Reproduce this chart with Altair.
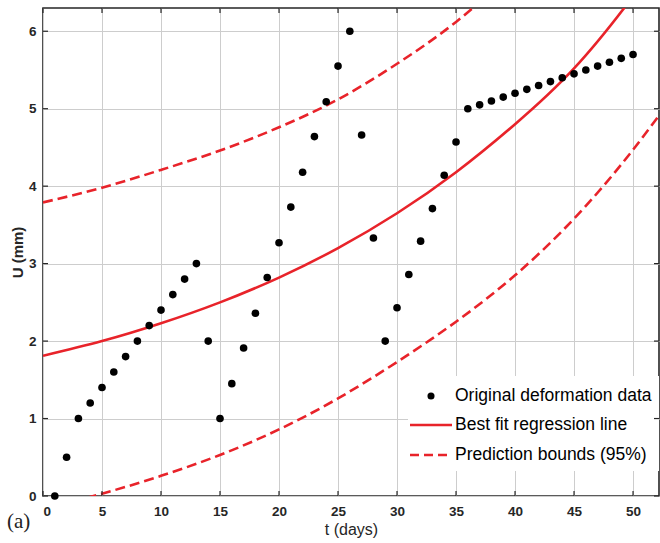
import altair as alt
import pandas as pd

# Daily deformation readings, t = 1..50 days
days = list(range(1, 51))
u_mm = [
    0.00, 0.50, 1.00, 1.20, 1.40, 1.60, 1.80, 2.00, 2.20, 2.40,
    2.60, 2.80, 3.00, 2.00, 1.00, 1.45, 1.91, 2.36, 2.82, 3.27,
    3.73, 4.18, 4.64, 5.09, 5.55, 6.00, 4.66, 3.33, 2.00, 2.43,
    2.86, 3.29, 3.71, 4.14, 4.57, 5.00, 5.05, 5.10, 5.15, 5.20,
    5.25, 5.30, 5.35, 5.40, 5.45, 5.50, 5.55, 5.60, 5.65, 5.70,
]

# Regression curve and 95% prediction bounds, sampled every 5 days
curve_t = [0, 5, 10, 15, 20, 25, 30, 35, 40, 45, 50, 55]
fit_u = [1.81, 2.00, 2.23, 2.50, 2.82, 3.20, 3.65, 4.18, 4.80, 5.52, 6.45, 7.50]
upper_t = [0, 5, 10, 15, 20, 25, 30, 35, 40]
upper_u = [3.79, 3.98, 4.21, 4.46, 4.76, 5.12, 5.58, 6.12, 6.78]
lower_u = [-0.17, 0.03, 0.26, 0.53, 0.86, 1.26, 1.73, 2.25, 2.85, 3.58, 4.47, 5.50]

x_ticks = [0, 5, 10, 15, 20, 25, 30, 35, 40, 45, 50]
y_ticks = [0, 1, 2, 3, 4, 5, 6]

legend_labels = ["Original deformation data", "Best fit regression line", "Prediction bounds (95%)"]

W, H = 616, 488
RED = "#e8232a"
FONT = "Liberation Sans"

points_df = pd.DataFrame({"t": days, "u": u_mm})
fit_df = pd.DataFrame({"t": curve_t, "u": fit_u})
upper_df = pd.DataFrame({"t": upper_t, "u": upper_u})
lower_df = pd.DataFrame({"t": curve_t, "u": lower_u})
xt_df = pd.DataFrame({"t": x_ticks})
yt_df = pd.DataFrame({"u": y_ticks})

x_scale = alt.Scale(domain=[0, 52.2], nice=False, zero=False)
y_scale = alt.Scale(domain=[0, 6.3], nice=False, zero=False)

x_enc = alt.X("t:Q", scale=x_scale, title="t (days)",
              axis=alt.Axis(values=x_ticks, format="d"))
y_enc = alt.Y("u:Q", scale=y_scale, title="U (mm)",
              axis=alt.Axis(values=y_ticks, format="d"))

pts = alt.Chart(points_df).mark_circle(size=58, color="black", opacity=1).encode(x=x_enc, y=y_enc)

fit_line = alt.Chart(fit_df).mark_line(color=RED, strokeWidth=2.6, clip=True,
                                       interpolate="natural").encode(x=x_enc, y=y_enc)
up_line = alt.Chart(upper_df).mark_line(color=RED, strokeWidth=2.6, clip=True, strokeDash=[10, 5],
                                        interpolate="natural").encode(x=x_enc, y=y_enc)
lo_line = alt.Chart(lower_df).mark_line(color=RED, strokeWidth=2.6, clip=True, strokeDash=[10, 5],
                                        interpolate="natural").encode(x=x_enc, y=y_enc)

# Inward-pointing tick marks on all four sides of the frame
tick_style = dict(color="#262626", strokeWidth=1.2)
bx = alt.Chart(xt_df).mark_rule(**tick_style).encode(x=alt.X("t:Q", scale=x_scale), y=alt.value(H), y2=alt.value(H - 5))
tx = alt.Chart(xt_df).mark_rule(**tick_style).encode(x=alt.X("t:Q", scale=x_scale), y=alt.value(0), y2=alt.value(5))
ly = alt.Chart(yt_df).mark_rule(**tick_style).encode(y=alt.Y("u:Q", scale=y_scale), x=alt.value(0), x2=alt.value(5))
ry = alt.Chart(yt_df).mark_rule(**tick_style).encode(y=alt.Y("u:Q", scale=y_scale), x=alt.value(W), x2=alt.value(W - 5))

# Legend box
leg_bg = alt.Chart(pd.DataFrame({"k": [0]})).mark_rect(fill="white", stroke=None).encode(
    x=alt.value(365), x2=alt.value(W), y=alt.value(368), y2=alt.value(463))
leg_dot = alt.Chart(pd.DataFrame({"k": [0]})).mark_circle(size=50, color="black", opacity=1).encode(
    x=alt.value(388), y=alt.value(388))
leg_solid = alt.Chart(pd.DataFrame({"k": [0]})).mark_rule(color=RED, strokeWidth=2.6).encode(
    x=alt.value(367), x2=alt.value(409), y=alt.value(417))
leg_dash = alt.Chart(pd.DataFrame({"k": [0]})).mark_rule(color=RED, strokeWidth=2.6, strokeDash=[9, 5]).encode(
    x=alt.value(367), x2=alt.value(409), y=alt.value(447))
leg_text = alt.layer(*[
    alt.Chart(pd.DataFrame({"label": [lab]})).mark_text(
        align="left", baseline="middle", font=FONT, fontSize=17.5, color="black"
    ).encode(text="label:N", x=alt.value(412), y=alt.value(yy))
    for lab, yy in zip(legend_labels, [388, 417, 447])
])

panel_tag = alt.Chart(pd.DataFrame({"tag": ["(a)"]})).mark_text(
    align="left", baseline="middle", font="Liberation Serif", fontSize=21, color="#222222"
).encode(text="tag:N", x=alt.value(-36), y=alt.value(514))

chart = alt.layer(
    up_line, lo_line, fit_line, pts,
    leg_bg, leg_dot, leg_solid, leg_dash, leg_text,
    bx, tx, ly, ry, panel_tag,
).properties(
    width=W, height=H,
    autosize=alt.AutoSizeParams(type="none"),
    padding={"left": 43, "top": 8, "right": 1, "bottom": 47},
).configure_view(
    stroke="#262626", strokeWidth=1.6
).configure_axis(
    grid=True, gridColor="#cdcdcd", gridWidth=1, ticks=False, domain=False,
    labelFont=FONT, labelFontSize=13.5, labelFontWeight="bold", labelColor="#262626",
    titleFont=FONT, titleColor="#262626",
).configure_axisX(
    labelPadding=8, titleFontSize=16, titleFontWeight="normal", titlePadding=4,
).configure_axisY(
    labelPadding=7, titleFontSize=15, titleFontWeight="bold", titlePadding=3,
)

chart.save("out.html", embed_options={"renderer": "svg", "actions": False})
